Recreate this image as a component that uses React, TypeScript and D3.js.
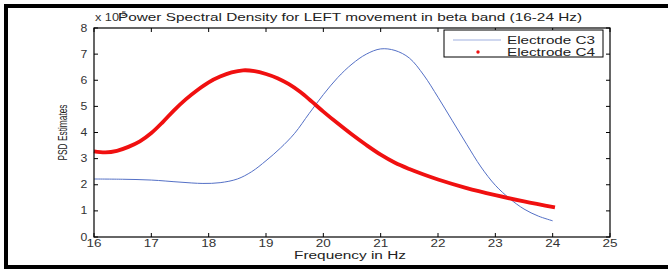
import React from 'react';
import * as d3 from 'd3';

// frequency grid (Hz) and PSD estimates (x 1e-5)
const freqC3 = [16, 16.5, 17, 17.5, 17.9, 18.2, 18.5, 18.75, 19, 19.25, 19.5, 19.75, 20, 20.25, 20.5, 20.75, 21, 21.25, 21.5, 21.75, 22, 22.25, 22.5, 22.75, 23, 23.25, 23.5, 23.75, 24];
const psdC3 = [2.22, 2.21, 2.18, 2.1, 2.05, 2.08, 2.22, 2.5, 2.92, 3.4, 3.97, 4.72, 5.45, 6.1, 6.62, 7.0, 7.2, 7.14, 6.85, 6.2, 5.35, 4.45, 3.55, 2.68, 1.98, 1.47, 1.07, 0.8, 0.62];
const freqC4 = [16, 16.2, 16.4, 16.6, 16.8, 17, 17.2, 17.4, 17.6, 17.8, 18, 18.2, 18.4, 18.6, 18.8, 19, 19.2, 19.4, 19.6, 19.8, 20, 20.25, 20.5, 20.75, 21, 21.25, 21.5, 21.75, 22, 22.5, 23, 23.5, 24.04];
const psdC4 = [3.28, 3.24, 3.3, 3.45, 3.66, 3.98, 4.4, 4.86, 5.27, 5.62, 5.92, 6.14, 6.3, 6.38, 6.35, 6.24, 6.08, 5.85, 5.55, 5.18, 4.8, 4.35, 3.92, 3.52, 3.15, 2.84, 2.6, 2.39, 2.2, 1.87, 1.6, 1.36, 1.13];
const xTicks = [16, 17, 18, 19, 20, 21, 22, 23, 24, 25];
const yTicks = [0, 1, 2, 3, 4, 5, 6, 7, 8];

const font = 'Arial, "Liberation Sans", Helvetica, sans-serif';

export default function App() {
  const W = 668, H = 269;
  const x = d3.scaleLinear().domain([16, 25]).range([94, 610]);
  const y = d3.scaleLinear().domain([0, 8]).range([237, 28]);
  const line = d3.line<[number, number]>().x(d => x(d[0])).y(d => y(d[1])).curve(d3.curveCatmullRom.alpha(0.5));
  const c3 = line(freqC3.map((f, i) => [f, psdC3[i]] as [number, number])) || '';
  const c4 = line(freqC4.map((f, i) => [f, psdC4[i]] as [number, number])) || '';
  const tl = 4;
  const [x0, x1] = x.range();
  const [y0, y1] = y.range();

  return (
    <div style={{ position: 'fixed', left: 0, top: 0 }}>
      <svg width={W} height={H} viewBox={`0 0 ${W} ${H}`} style={{ display: 'block', background: '#fff' }} fontFamily={font}>
        {/* page frame */}
        <rect x={4} y={4} width={664} height={4} fill="#000" />
        <rect x={4} y={4} width={4} height={264} fill="#000" />
        <rect x={4} y={265} width={664} height={4} fill="#000" />

        {/* series */}
        <path d={c3} fill="none" stroke="#5470c6" strokeWidth={1} />
        <path d={c4} fill="none" stroke="#f01010" strokeWidth={3.8} strokeLinejoin="round" />

        {/* axes box */}
        <rect x={x0} y={y1} width={x1 - x0} height={y0 - y1} fill="none" stroke="#000" strokeWidth={1.2} />
        {xTicks.map(t => (
          <g key={'x' + t}>
            <line x1={x(t)} x2={x(t)} y1={y0} y2={y0 - tl} stroke="#000" />
            <line x1={x(t)} x2={x(t)} y1={y1} y2={y1 + tl} stroke="#000" />
            <text x={x(t) - 7.5} y={247} fontSize={11} textLength={15} lengthAdjust="spacingAndGlyphs" fill="#333">{t}</text>
          </g>
        ))}
        {yTicks.map(t => (
          <g key={'y' + t}>
            <line x1={x0} x2={x0 + tl} y1={y(t)} y2={y(t)} stroke="#000" />
            <line x1={x1} x2={x1 - tl} y1={y(t)} y2={y(t)} stroke="#000" />
            <text x={80.5} y={y(t) + 3.5} fontSize={10} textLength={6.8} lengthAdjust="spacingAndGlyphs" fill="#333">{t}</text>
          </g>
        ))}

        {/* exponent */}
        <text x={95} y={21} fontSize={10} textLength={24} lengthAdjust="spacingAndGlyphs" fill="#333">x 10</text>
        <text x={119} y={16} fontSize={8} fill="#333">-5</text>

        {/* title and labels */}
        <text x={118} y={21} fontSize={11.5} textLength={464} lengthAdjust="spacingAndGlyphs" fill="#222">
          Power Spectral Density for LEFT movement in beta band (16-24 Hz)
        </text>
        <text x={294} y={259} fontSize={10} textLength={112} lengthAdjust="spacingAndGlyphs" fill="#222">Frequency in Hz</text>
        <text transform={`translate(67,${(y0 + y1) / 2}) rotate(-90)`} x={-28} fontSize={13.5} textLength={56} lengthAdjust="spacingAndGlyphs" fill="#222">PSD Estimates</text>

        {/* legend */}
        <rect x={444} y={30} width={159} height={27} fill="#fff" stroke="#000" strokeWidth={1} />
        <line x1={453} x2={501} y1={40} y2={40} stroke="#5470c6" strokeWidth={1.2} opacity={0.55} />
        <text x={507} y={44} fontSize={11} textLength={88} lengthAdjust="spacingAndGlyphs" fill="#222">Electrode C3</text>
        <circle cx={478} cy={52} r={1.7} fill="#f01010" />
        <text x={507} y={56} fontSize={11} textLength={88} lengthAdjust="spacingAndGlyphs" fill="#222">Electrode C4</text>
      </svg>
    </div>
  );
}
